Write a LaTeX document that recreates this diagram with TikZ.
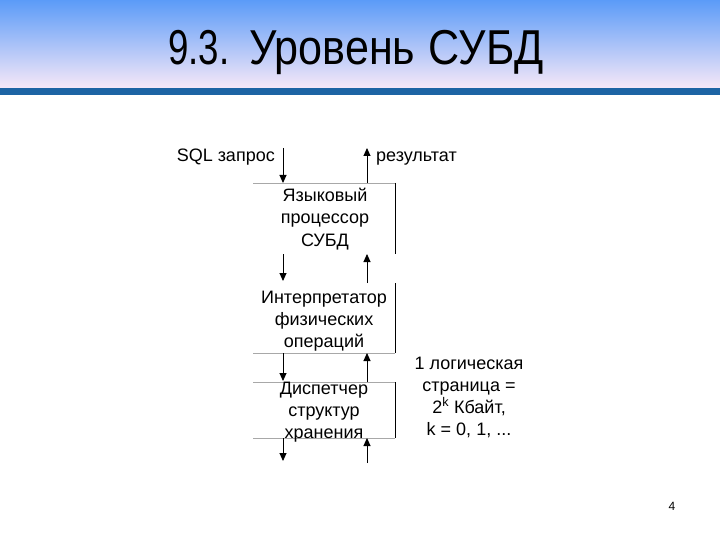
\documentclass[tikz,border=0pt]{standalone}
\usepackage{fontspec}
\setmainfont{Liberation Sans}
\usetikzlibrary{arrows.meta}
\definecolor{hdrtop}{HTML}{5B9BF8}
\definecolor{hdrmid}{HTML}{A8C6EC}
\definecolor{hdrbot}{HTML}{F6E8F8}
\definecolor{hdrbar}{HTML}{1D64A4}
\definecolor{boxline}{HTML}{A8A8A8}
\begin{document}
\begin{tikzpicture}[x=1pt,y=-1pt,
  flow/.style={-{Triangle[length=8pt,width=7pt]},line width=0.9pt,black},
  edge/.style={line width=0.9pt,black},
  rule/.style={line width=0.9pt,boxline},
  lbl/.style={font=\fontsize{18}{22}\selectfont,inner sep=0pt,align=center},
  boxtxt/.style={font=\fontsize{18}{22}\selectfont,inner sep=0pt,align=center}]
\useasboundingbox (0,0) rectangle (720,540);
\fill[white] (0,0) rectangle (720,540);
\shade[top color=hdrtop,middle color=hdrmid,bottom color=hdrbot] (0,0) rectangle (720,88);
\fill[hdrbar] (0,88.5) rectangle (720,95);
\node[anchor=base west,font=\fontsize{49}{52}\selectfont,xscale=0.88,inner sep=0pt] (title) at (168,65) {\scalebox{0.85}[1]{9.3.}\hspace{9pt} Уровень\hspace{2pt} СУБД};
% box frame lines
\coordinate (b1tl) at (253,183);
\coordinate (b1tr) at (395,183);
\coordinate (b1br) at (395,254);
\coordinate (b2tr) at (395,283);
\coordinate (b2br) at (395,353);
\coordinate (b2bl) at (253,353);
\coordinate (b3tl) at (253,382);
\coordinate (b3tr) at (395,382);
\coordinate (b3br) at (395,438);
\coordinate (b3bl) at (253,438);
\draw[rule] (b1tl) -- (b1tr);
\draw[edge] (b1tr) -- (b1br);
\draw[edge] (b2tr) -- (b2br);
\draw[rule] (b2br) -- (b2bl);
\draw[rule] (b3tl) -- (b3tr);
\draw[edge] (b3tr) -- (b3br);
\draw[rule] (b3br) -- (b3bl);
% texts
\node[lbl,anchor=base east] (sql) at (275,162) {SQL запрос};
\node[lbl,anchor=base west] (res) at (376,162) {результат};
\node[boxtxt,anchor=base] (p1) at (325,246) {Языковый\\процессор\\СУБД};
\node[boxtxt,anchor=base] (p2) at (324,347) {Интерпретатор\\физических\\операций};
\node[boxtxt,anchor=base] (p3) at (324,438) {Диспетчер\\структур\\хранения};
\node[boxtxt,anchor=base] (note) at (469,435) {1 логическая\\страница =\\2\textsuperscript{k} Кбайт,\\k = 0, 1, ...};
\node[anchor=base,font=\fontsize{12}{14}\selectfont,inner sep=0pt] (pg) at (672,510) {4};
% arrows
\coordinate (d0s) at (283,148);
\coordinate (d0e) at (283,183);
\coordinate (u0s) at (367,183);
\coordinate (u0e) at (367,148);
\coordinate (d1s) at (283,254);
\coordinate (d1e) at (283,281);
\coordinate (u1s) at (367,283);
\coordinate (u1e) at (367,254);
\coordinate (d2s) at (283,353);
\coordinate (d2e) at (283,381);
\coordinate (u2s) at (367,382);
\coordinate (u2e) at (367,353);
\coordinate (d3s) at (283,438);
\coordinate (d3e) at (283,461);
\coordinate (u3s) at (367,463);
\coordinate (u3e) at (367,438);
\draw[flow] (d0s) -- (d0e);
\draw[flow] (u0s) -- (u0e);
\draw[flow] (d1s) -- (d1e);
\draw[flow] (u1s) -- (u1e);
\draw[flow] (d2s) -- (d2e);
\draw[flow] (u2s) -- (u2e);
\draw[flow] (d3s) -- (d3e);
\draw[flow] (u3s) -- (u3e);
\end{tikzpicture}
\end{document}
